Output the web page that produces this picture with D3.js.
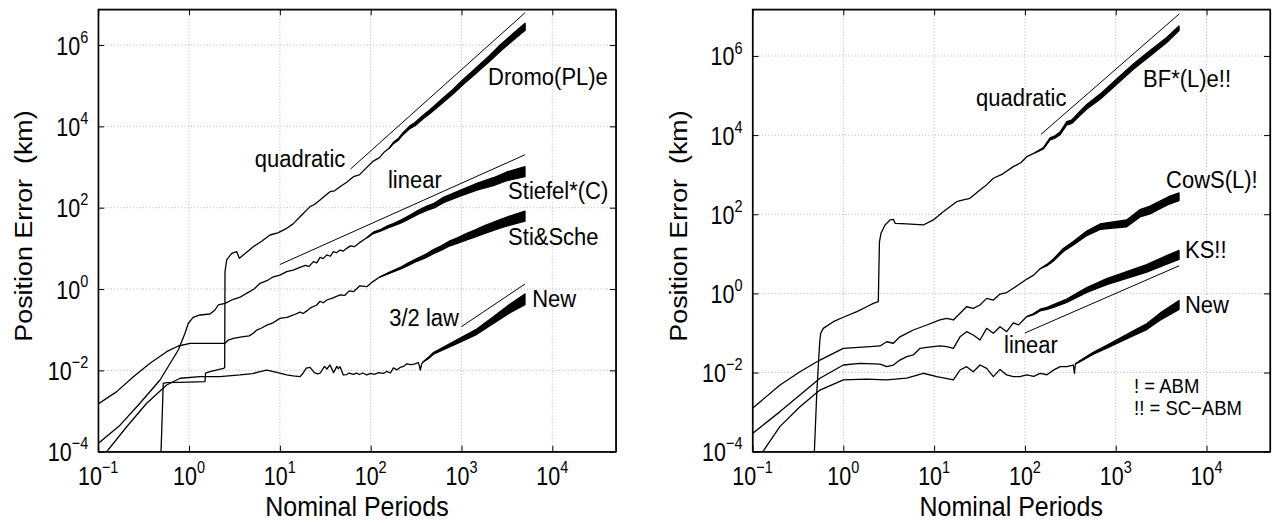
<!DOCTYPE html>
<html><head><meta charset="utf-8">
<script src="https://cdn.jsdelivr.net/npm/d3@7"></script>
<style>
body{margin:0;background:#fff;}
svg{display:block;font-family:"Liberation Sans",Arial,Helvetica,sans-serif;}
</style></head><body>
<svg id="c" width="1272" height="523"></svg>
<script>
// ---------- data ----------
const xDomain = [0.1, 5e4];
const xTickVals = [0.1, 1, 10, 100, 1000, 10000];
const yTickVals = [1e-4, 1e-2, 1, 1e2, 1e4, 1e6];
const yDomainLeft = [1e-4, 7.55e6];
const yDomainRight = [1e-4, 1.51e7];
const xTitle = "Nominal Periods";
const yTitle = "Position Error\u00a0\u00a0(km)";

// left panel series
const dromoPL = [[0.49,1e-5],[0.492,1e-4],[0.52,4.8e-3],[0.567,5.0e-3],[1.0,5.15e-3],[1.5,5.3e-3],[1.52,8.5e-3],[1.70,9.3e-3],[2.39,0.0112],[2.47,0.0116],[2.49,2.67],[2.6,5.2],[2.95,7.55],[3.35,8.3],[3.58,5.7],[3.96,6.9],[5.1,11],[6.3,15],[7.8,21.3],[9.5,24],[11.9,31.1],[14,40],[16.7,60],[21.5,106],[24,120],[27.7,155],[31,190],[35.7,247],[40,260],[46,328],[55,430],[64.6,578],[75,640],[85,850],[107,1400],[125,1700],[140,2300],[160,2900],[178,3900],[200,4700],[230,6800],[270,9500],[310,11500],[381,17260],[450,23000],[632,44450],[800,70000],[1050,1.25e5],[1300,1.9e5],[1610,2.93e5],[2000,4.5e5],[2660,8.3e5],[3730,1.6e6],[5020,2.8e6]];
const stiefelC = [[0.1,1.6e-4],[0.174,4.5e-4],[0.288,1.55e-3],[0.479,5.8e-3],[0.762,0.0317],[0.903,0.0815],[0.982,0.144],[1.11,0.20],[1.32,0.23],[1.70,0.243],[1.93,0.305],[2.10,0.405],[2.49,0.445],[3.08,0.56],[3.6,0.62],[4.3,0.78],[5.2,1.0],[6.05,1.38],[7.2,1.6],[8.5,2.0],[10,2.2],[11.9,2.67],[14,2.9],[16.7,3.4],[19,3.8],[21,3.6],[23.4,4.7],[25.5,4.4],[27.7,6.0],[30,5.6],[32.9,6.9],[36,6.4],[38.8,8.3],[42,7.8],[46,9.1],[50,8.6],[54.5,10.0],[60,11.5],[66,11],[76,14],[90,18],[107,24],[130,28],[150,33],[178,38],[220,47],[272,60],[330,76],[415,96.6],[500,112],[633,155],[966,226],[1475,328],[2245,436],[3150,590],[5000,767]];
const stiSche = [[0.1,1.5e-3],[0.16,3.0e-3],[0.244,7.0e-3],[0.372,0.0149],[0.567,0.0288],[0.762,0.0397],[1.03,0.0462],[2.49,0.0462],[2.71,0.0557],[3.08,0.0614],[3.96,0.0673],[4.6,0.0705],[5.1,0.0815],[5.57,0.098],[6.3,0.11],[7.2,0.13],[8.5,0.15],[10,0.19],[12,0.2],[14.1,0.23],[16.7,0.27],[18,0.25],[19.8,0.29],[22,0.35],[25.5,0.405],[27.7,0.5],[30,0.46],[32.9,0.537],[38,0.6],[46,0.72],[52,0.7],[58,0.9],[64.6,0.86],[76,1.2],[90.6,1.14],[105,1.5],[127,2.0],[160,2.5],[211,3.23],[260,4.1],[322,5.2],[400,6.4],[491,8.3],[600,10.2],[748,13.3],[900,15.5],[1143,19.4],[1400,23],[1743,28.3],[2660,40],[3600,50],[5000,62]];
const newLeft = [[0.124,1e-4],[0.206,4.1e-4],[0.342,1.55e-3],[0.567,4.37e-3],[0.80,6.4e-3],[1.32,7.0e-3],[2.19,7.0e-3],[3.65,7.7e-3],[5,8.3e-3],[6.05,9.3e-3],[7.2,0.0102],[8.5,9.3e-3],[10,8.5e-3],[11.9,7.7e-3],[14,7.3e-3],[16.7,7.0e-3],[18,8.5e-3],[19.5,0.0113],[21.5,0.0118],[24,8.8e-3],[26,8.2e-3],[27.7,8.5e-3],[31,0.0125],[33,0.0108],[35.7,0.0136],[39,8.8e-3],[42.4,0.0125],[44,0.011],[46,0.0123],[50,7.7e-3],[54.5,7.9e-3],[58,8.6e-3],[64.6,8.0e-3],[70,8.6e-3],[75,7.9e-3],[82,8.6e-3],[90.6,7.7e-3],[100,8.4e-3],[110,8.0e-3],[122,8.8e-3],[138,8.4e-3],[150,9.4e-3],[165,8.6e-3],[178,0.0115],[195,0.0103],[211,0.0118],[230,0.0125],[250,0.0145],[275,0.0138],[300,0.0142],[335,0.0154],[345,0.0125],[352,0.0102],[365,0.0145],[380,0.0163],[430,0.02],[491,0.0262],[689,0.0382],[966,0.0557],[1475,0.0893],[2245,0.173],[3430,0.336],[5000,0.56]];

// oscillation envelopes [x, low, high]
const dromoPLBand = [[160,2900,2900],[178,3750,4060],[200,4480,4940],[230,6420,7210],[270,8800,10260],[310,10550,12540],[381,15690,18990],[450,20720,25530],[632,39340,50230],[800,61400,79800],[1050,1.087e5,1.438e5],[1300,1.638e5,2.204e5],[1610,2.504e5,3.428e5],[2000,3.81e5,5.31e5],[2660,6.92e5,9.96e5],[3730,1.322e6,1.936e6],[5020,2.295e6,3.416e6]];
const stiefelCBand = [[90,18,18],[107,23.1,25],[130,26.7,29.4],[150,31.1,35],[178,35.5,40.7],[220,43.1,51.2],[272,54.5,66],[330,67.9,85.1],[415,85.5,109.2],[500,98.2,127.7],[633,133.6,179.8],[966,191.5,266.7],[1475,271,397],[2245,349,545],[3150,461,755],[5000,577,1020]];
const stiScheBand = [[127,2.0,2.0],[160,2.43,2.58],[211,3.08,3.39],[260,3.83,4.39],[322,4.81,5.62],[400,5.82,7.04],[491,7.41,9.3],[600,9.03,11.53],[748,11.57,15.3],[900,13.25,18.1],[1143,16.2,23.3],[1400,18.9,28.1],[1743,22.8,35.1],[2660,31.5,50.8],[3600,38.5,65],[5000,46.6,82.5]];
const newLeftBand = [[380,0.0163,0.0163],[430,0.0194,0.0206],[491,0.025,0.0275],[689,0.0354,0.0413],[966,0.0497,0.0624],[1475,0.077,0.1036],[2245,0.143,0.209],[3430,0.2625,0.43],[5000,0.415,0.756]];

const quadLeft = [[60,893],[5000,6.2e6]];
const linearLeft = [[10,4],[5000,2000]];
const law32Left = [[1000,0.119],[5000,1.33]];

const leftLabels = [["Dromo(PL)e",1963,1.04e5],["quadratic",5.3,1000],["linear",155,305],["Stiefel*(C)",3260,165],["Sti&Sche",3260,12.1],["New",6000,0.36],["3/2 law",160,0.123]];

// right panel series
const bfLe = [[0.476,1e-5],[0.48,1e-4],[0.51,3e-3],[0.55,0.06],[0.564,0.098],[0.602,0.131],[0.776,0.193],[1.0,0.25],[1.41,0.345],[1.81,0.46],[2.14,0.56],[2.43,0.62],[2.47,5],[2.5,20],[2.6,33],[2.88,53.6],[3.27,71.8],[3.56,74.6],[3.72,59],[4.99,56.8],[7.6,53.6],[9.8,71.8],[12.6,116],[17.7,208],[21,230],[24.8,253],[32,411],[38,560],[44.9,811],[55,1000],[74.5,1596],[90,2000],[105,2852],[130,3600],[160,4645],[189,8000],[215,9000],[244,11100],[289,19900],[330,22000],[405,35600],[480,52300],[673,93600],[1026,2.24e5],[1563,5.37e5],[2388,1.17e6],[3645,2.54e6],[4980,5.0e6]];
const cowsL = [[0.1,1.25e-3],[0.201,4.85e-3],[0.333,0.0105],[0.553,0.0207],[1.0,0.041],[1.97,0.045],[2.54,0.047],[3.0,0.060],[3.56,0.055],[4.2,0.080],[5.0,0.098],[5.9,0.119],[8.3,0.159],[11.6,0.213],[13.8,0.235],[16.3,0.213],[19.3,0.314],[22.8,0.46],[27,0.42],[32,0.51],[37.9,0.75],[44.9,0.68],[53.2,0.96],[63,1.05],[74.5,1.35],[90,1.8],[105,2.3],[125,2.9],[147,4.2],[175,5.2],[206,7.0],[265,12.5],[341,18.5],[480,33],[673,48.5],[942,53.6],[1321,59],[1853,106],[2388,128],[3076,172],[3960,230],[4980,278]];
const ksRight = [[0.1,2.9e-4],[0.201,1.03e-3],[0.333,2.7e-3],[0.553,7.2e-3],[1.0,0.0155],[1.53,0.0171],[2.54,0.0164],[3.0,0.0141],[3.56,0.0155],[4.2,0.0207],[5.0,0.0252],[5.9,0.0278],[7.0,0.041],[8.3,0.0435],[11.6,0.047],[13.8,0.045],[16.3,0.041],[19.3,0.080],[22.8,0.108],[27,0.089],[32,0.0665],[37.9,0.131],[44.9,0.098],[53.2,0.144],[63,0.108],[74.5,0.18],[85,0.16],[105,0.26],[125,0.3],[147,0.38],[175,0.42],[206,0.48],[289,0.65],[480,1.22],[796,1.98],[1321,2.92],[2193,4.3],[3645,7.0],[4980,9.35]];
const newRight = [[0.13,1e-4],[0.2,4.3e-4],[0.333,1.37e-3],[0.553,3.6e-3],[1.0,6.5e-3],[1.81,6.8e-3],[3.0,6.5e-3],[5.0,7.2e-3],[7.6,9.6e-3],[10.7,7.9e-3],[16.3,6.5e-3],[19.3,0.0116],[22.8,0.0141],[27,0.0105],[32,0.0155],[37.9,0.0128],[44.9,7.9e-3],[53.2,0.012],[63,8.7e-3],[74.5,7.9e-3],[88,7.9e-3],[105,8.7e-3],[125,8.0e-3],[147,9.5e-3],[175,8.8e-3],[206,0.0115],[244,0.0141],[289,0.0141],[341,0.0155],[351,9.6e-3],[360,0.0165],[405,0.0195],[566,0.0307],[796,0.045],[1117,0.0665],[1563,0.098],[2193,0.144],[3076,0.258],[4980,0.51]];

const bfLeBand = [[130,3600,3600],[160,4466,4831],[189,7547,8480],[215,8411,9630],[244,10278,11988],[289,18091,21890],[330,19820,24420],[405,31500,40230],[480,45880,59620],[673,80690,108580],[1026,1.915e5,2.621e5],[1563,4.59e5,6.28e5],[2388,1.0e6,1.369e6],[3645,2.19e6,2.946e6],[4980,4.386e6,5.7e6]];
const cowsLBand = [[147,4.2,4.2],[175,5.0,5.41],[206,6.6,7.42],[265,11.47,13.63],[341,16.67,20.54],[480,28.95,37.62],[673,41.45,56.75],[942,44.67,64.32],[1321,48.36,71.98],[1853,85.5,131.4],[2388,102.4,160],[3076,137.6,215],[3960,184,287.5],[4980,222.4,347.5]];
const ksRightBand = [[105,0.26,0.26],[125,0.291,0.309],[147,0.362,0.399],[175,0.396,0.445],[206,0.444,0.518],[289,0.591,0.715],[480,1.061,1.403],[796,1.664,2.356],[1321,2.393,3.562],[2193,3.44,5.375],[3645,5.47,8.96],[4980,7.19,12.16]];
const newRightBand = [[360,0.0165,0.0165],[405,0.0189,0.0201],[566,0.029,0.0325],[796,0.0413,0.049],[1117,0.0594,0.0745],[1563,0.0852,0.1127],[2193,0.122,0.17],[3076,0.21,0.317],[4980,0.392,0.663]];

const quadRight = [[150,1.04e4],[5000,1.15e7]];
const linearRight = [[100,0.1],[5000,5]];

const rightLabels = [["quadratic",28.9,54500],["BF*(L)e!!",2000,1.65e5],["CowS(L)!",3580,461],["KS!!",5790,7.85],["New",5790,0.32],["linear",58.9,0.0312]];
const noteLabels = [["! = ABM",1592,3.04e-3],["!! = SC\u2212ABM",1592,8.45e-4]];

// ---------- drawing ----------
const svg = d3.select("#c");
const plotTop = 9.3, plotBottom = 451.7;
const STRETCH = 1.12;

function expLabel(t){
  const e = Math.round(Math.log10(t));
  return (e < 0 ? "\u2212" : "") + Math.abs(e);
}

function drawPanel(cfg){
  const g = svg.append("g");
  const x = d3.scaleLog().domain(xDomain).range([cfg.left, cfg.right]);
  const y = d3.scaleLog().domain(cfg.yDomain).range([plotBottom, plotTop]);
  const W = cfg.right - cfg.left, H = plotBottom - plotTop;

  const clipId = "clip-" + cfg.name;
  svg.append("clipPath").attr("id", clipId).append("rect")
    .attr("x", cfg.left).attr("y", plotTop).attr("width", W).attr("height", H);

  // grid
  const grid = g.append("g");
  xTickVals.filter(t => t > xDomain[0]).forEach(t => {
    grid.append("line").attr("x1", x(t)).attr("x2", x(t)).attr("y1", plotTop).attr("y2", plotBottom)
      .attr("stroke", "#b8b8b8").attr("stroke-width", 1).attr("stroke-dasharray", "1,2.2");
  });
  yTickVals.filter(t => t > cfg.yDomain[0]).forEach(t => {
    grid.append("line").attr("x1", cfg.left).attr("x2", cfg.right).attr("y1", y(t)).attr("y2", y(t))
      .attr("stroke", "#b8b8b8").attr("stroke-width", 1).attr("stroke-dasharray", "1,2.2");
  });

  const plot = g.append("g").attr("clip-path", `url(#${clipId})`);
  const line = d3.line().x(d => x(d[0])).y(d => y(d[1]));
  const area = d3.area().x(d => x(d[0])).y0(d => y(d[1])).y1(d => y(d[2]));

  cfg.series.forEach(s => {
    plot.append("path").attr("d", line(s)).attr("fill", "none").attr("stroke", "#000")
      .attr("stroke-width", 1.3).attr("stroke-linejoin", "round");
  });
  cfg.bands.forEach(b => {
    plot.append("path").attr("d", area(b)).attr("fill", "#000").attr("stroke", "#000")
      .attr("stroke-width", 1.3).attr("stroke-linejoin", "round");
  });
  cfg.refs.forEach(r => {
    plot.append("path").attr("d", line(r)).attr("fill", "none").attr("stroke", "#000").attr("stroke-width", 1);
  });

  // axes (inward ticks on all four sides)
  const tick = 6;
  g.append("g").attr("transform", `translate(0,${plotBottom})`)
    .call(d3.axisBottom(x).tickValues(xTickVals).tickSizeInner(-tick).tickSizeOuter(0).tickFormat(""));
  g.append("g").attr("transform", `translate(0,${plotTop})`)
    .call(d3.axisTop(x).tickValues(xTickVals).tickSizeInner(-tick).tickSizeOuter(0).tickFormat(""));
  g.append("g").attr("transform", `translate(${cfg.left},0)`)
    .call(d3.axisLeft(y).tickValues(yTickVals).tickSizeInner(-tick).tickSizeOuter(0).tickFormat(""));
  g.append("g").attr("transform", `translate(${cfg.right},0)`)
    .call(d3.axisRight(y).tickValues(yTickVals).tickSizeInner(-tick).tickSizeOuter(0).tickFormat(""));
  g.selectAll(".domain").attr("stroke", "#000").attr("stroke-width", 1.2);
  g.selectAll(".tick line").attr("stroke", "#000").attr("stroke-width", 1);

  g.append("rect").attr("x", cfg.left).attr("y", plotTop).attr("width", W).attr("height", H)
    .attr("fill", "none").attr("stroke", "#000").attr("stroke-width", 1.2);

  // tick labels
  xTickVals.forEach(t => {
    const lg = g.append("g").attr("transform", `translate(${x(t)},485) scale(1,1.18)`);
    const tx = lg.append("text").attr("text-anchor", "middle").attr("font-size", 21.5).attr("fill", "#000");
    tx.append("tspan").text("10");
    tx.append("tspan").attr("dy", -10).attr("font-size", 14.5).text(expLabel(t));
  });
  yTickVals.forEach(t => {
    const lg = g.append("g").attr("transform", `translate(${cfg.left - 10},${y(t) + 9.5}) scale(1,1.18)`);
    const tx = lg.append("text").attr("text-anchor", "end").attr("font-size", 21.5).attr("fill", "#000");
    tx.append("tspan").text("10");
    tx.append("tspan").attr("dy", -10).attr("font-size", 14.5).text(expLabel(t));
  });

  // axis titles
  g.append("g").attr("transform", `translate(${(cfg.left + cfg.right) / 2},516) scale(1,${STRETCH})`)
    .append("text").attr("text-anchor", "middle").attr("font-size", 25).text(xTitle);
  g.append("g").attr("transform", `translate(${cfg.left - 66},226) rotate(-90) scale(${STRETCH},1)`)
    .append("text").attr("text-anchor", "middle").attr("font-size", 24).text(yTitle);

  // annotations
  cfg.labels.forEach(l => {
    g.append("g").attr("transform", `translate(${x(l[1])},${y(l[2])}) scale(1,${STRETCH})`)
      .append("text").attr("font-size", 22).text(l[0]);
  });
  (cfg.notes || []).forEach(l => {
    g.append("g").attr("transform", `translate(${x(l[1])},${y(l[2])}) scale(1,${STRETCH})`)
      .append("text").attr("font-size", 18.5).text(l[0]);
  });
}

drawPanel({name: "left", left: 98.2, right: 615.8, yDomain: yDomainLeft,
  series: [dromoPL, stiefelC, stiSche, newLeft],
  bands: [dromoPLBand, stiefelCBand, stiScheBand, newLeftBand],
  refs: [quadLeft, linearLeft, law32Left], labels: leftLabels});
drawPanel({name: "right", left: 752.5, right: 1270, yDomain: yDomainRight,
  series: [bfLe, cowsL, ksRight, newRight],
  bands: [bfLeBand, cowsLBand, ksRightBand, newRightBand],
  refs: [quadRight, linearRight], labels: rightLabels, notes: noteLabels});
</script>
</body></html>
